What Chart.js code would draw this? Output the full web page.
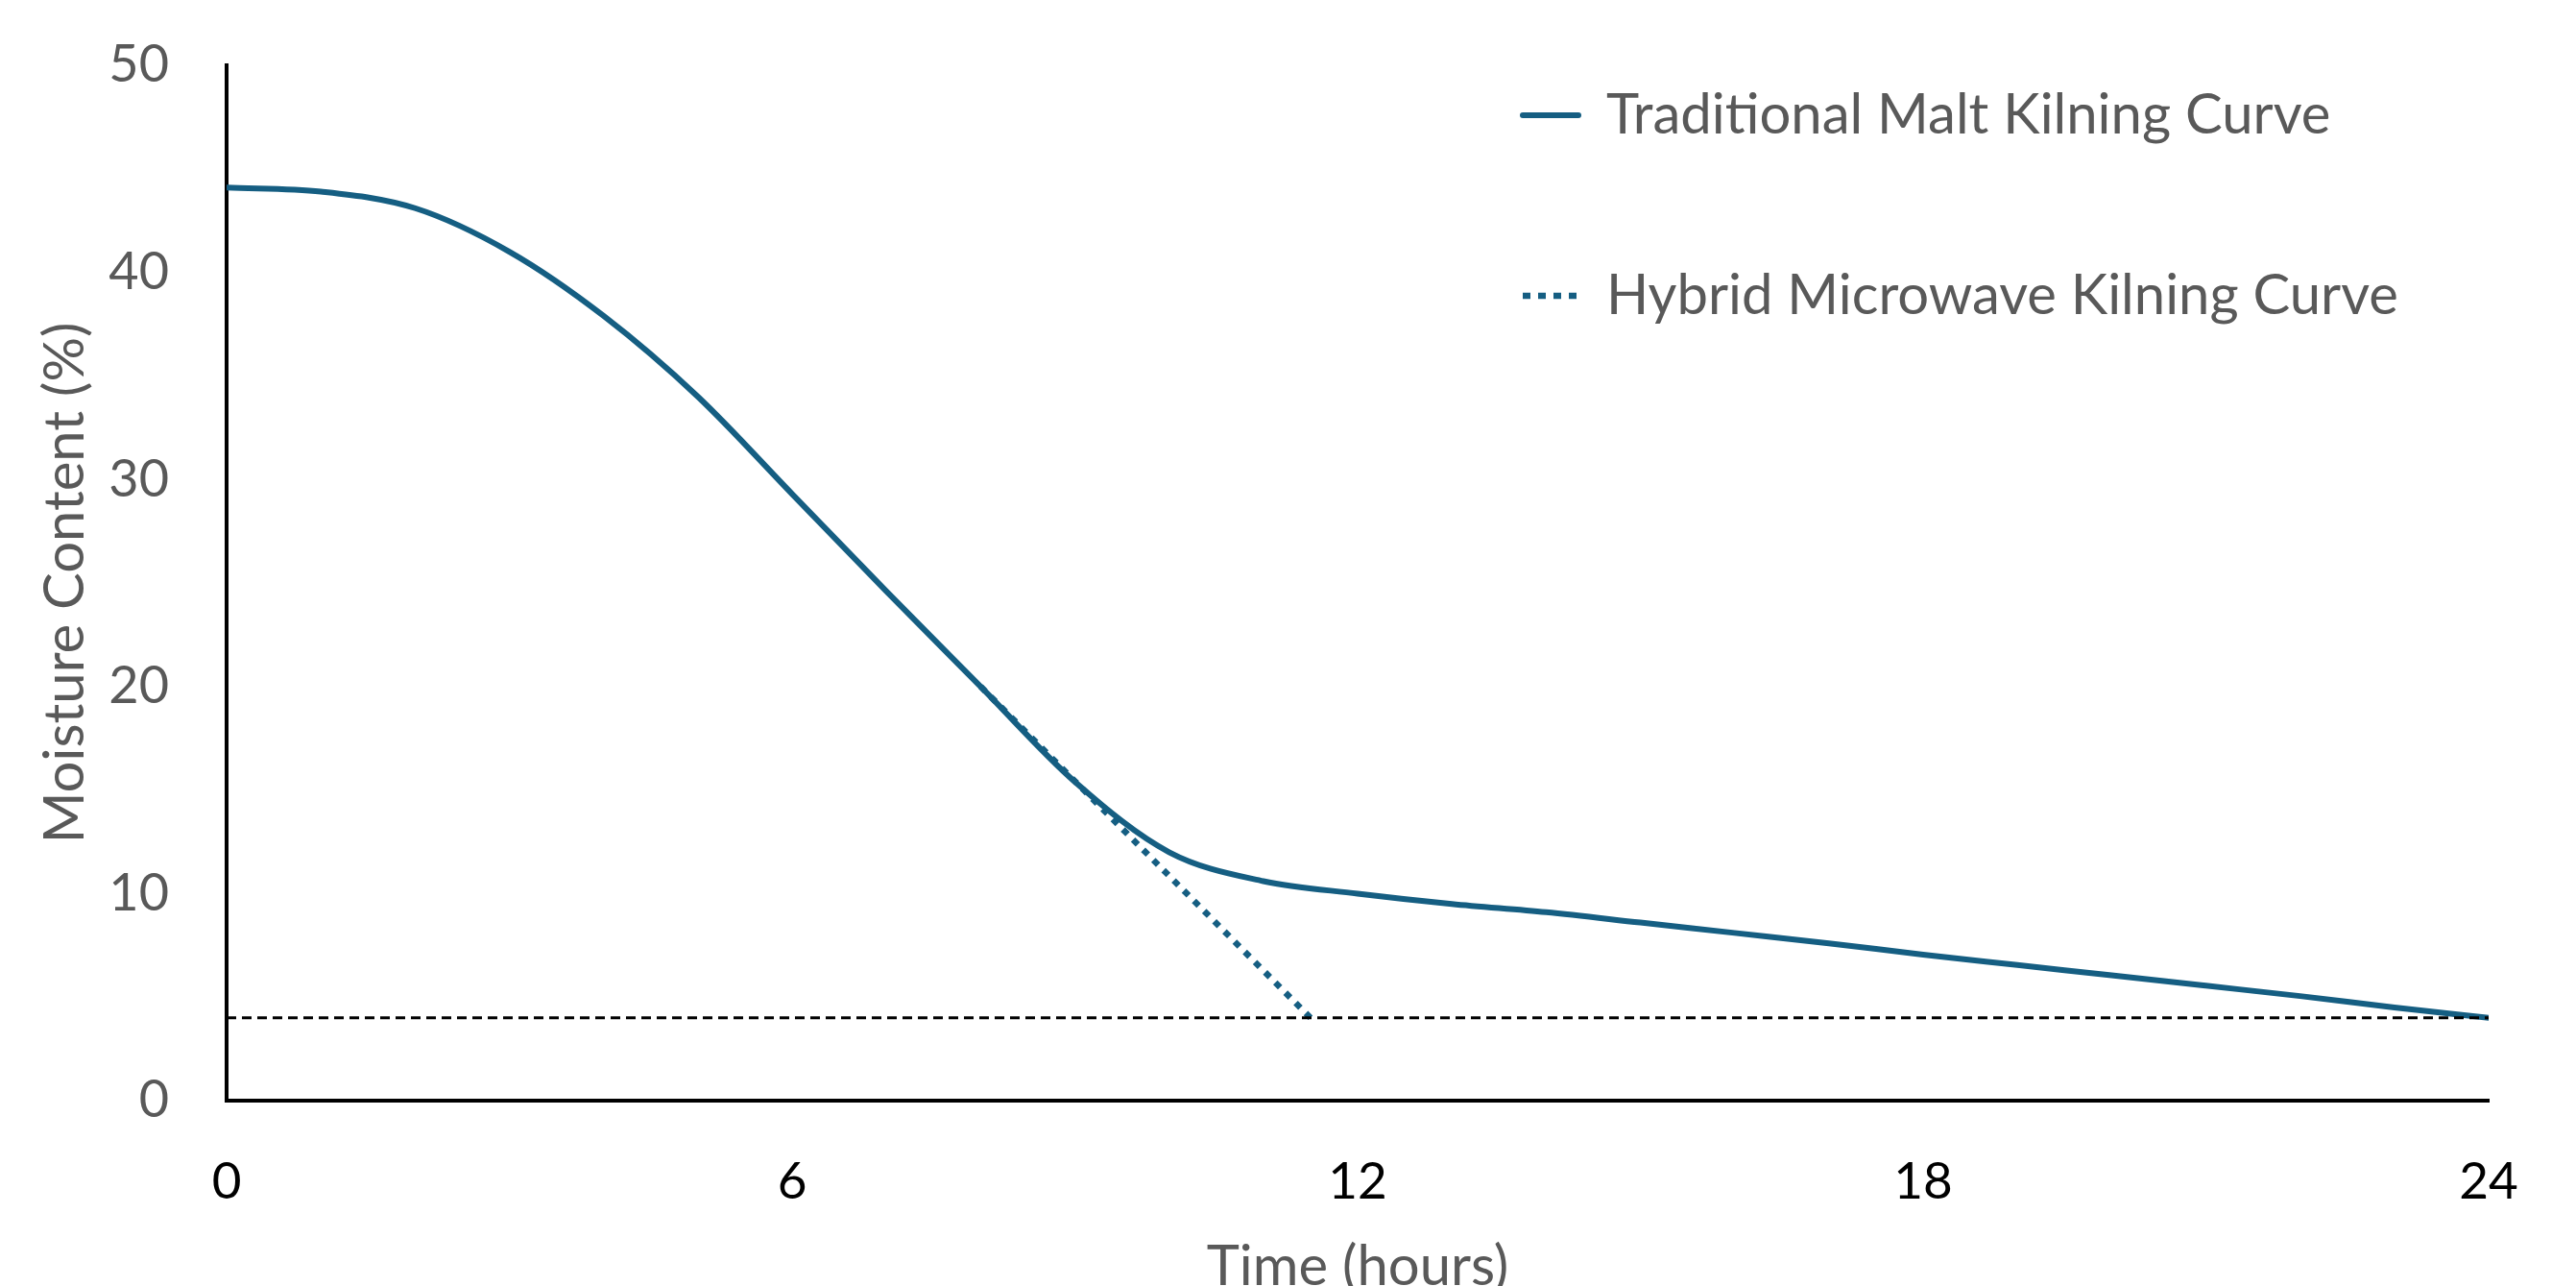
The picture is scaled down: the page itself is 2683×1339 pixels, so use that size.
<!DOCTYPE html>
<html>
<head>
<meta charset="utf-8">
<title>Moisture Content vs Time</title>
<script src="https://cdn.jsdelivr.net/npm/chart.js@4.4.1/dist/chart.umd.min.js"></script>
<style>
  html, body { margin: 0; padding: 0; background: #ffffff; }
  canvas { display: block; }
</style>
</head>
<body>
<canvas id="kilnChart" width="2683" height="1339"></canvas>
<script>
// time axis (hours) and the two kilning curves
const hours = [0, 1, 2, 3, 4, 5, 6, 7, 8, 9, 10, 11, 12, 13, 14, 15, 16, 17, 18, 19, 20, 21, 22, 23, 24];
const traditionalMoisture = [44.1, 43.9, 43.1, 41.0, 37.9, 34.0, 29.3, 24.6, 20.0, 15.4, 12.0, 10.6, 10.0,
                             9.5, 9.1, 8.6, 8.1, 7.6, 7.05, 6.55, 6.05, 5.55, 5.05, 4.5, 4.0];
const hybridHours = [8, 11.5];
const hybridMoisture = [20.0, 4.0];
const targetHours = [0, 24];
const targetMoisture = [4, 4];

const xTickValues = [0, 6, 12, 18, 24];
const yTickValues = [0, 10, 20, 30, 40, 50];

const seriesNames = ['Traditional Malt Kilning Curve', 'Hybrid Microwave Kilning Curve'];

const BLUE = '#155E82';
const GREY = '#595959';

function toPoints(xs, ys) {
    return xs.map((x, i) => ({ x: x, y: ys[i] }));
}

// put the built-in legend where the original one sits, inside the plot
const legendPlacer = {
    id: 'legendPlacer',
    afterLayout(chart) {
        const lg = chart.legend;
        const pad = lg.options.labels.padding;
        lg.left = 1586 - pad;
        lg.top = 120 - 29 - pad;
    }
};

Chart.defaults.font.family = 'Lato';

const ctx = document.getElementById('kilnChart').getContext('2d');

const kilnChart = new Chart(ctx, {
    type: 'line',
    data: {
        datasets: [
            {
                label: seriesNames[0],
                data: toPoints(hours, traditionalMoisture),
                borderColor: BLUE,
                backgroundColor: BLUE,
                borderWidth: 6,
                borderCapStyle: 'round',
                cubicInterpolationMode: 'monotone',
                pointRadius: 0,
                order: 1
            },
            {
                label: seriesNames[1],
                data: toPoints(hybridHours, hybridMoisture),
                borderColor: BLUE,
                backgroundColor: BLUE,
                borderWidth: 6.5,
                borderDash: [7, 8],
                borderCapStyle: 'butt',
                pointRadius: 0,
                order: 2
            },
            {
                label: 'target',
                data: toPoints(targetHours, targetMoisture),
                borderColor: '#000000',
                borderWidth: 3,
                borderDash: [10, 6],
                pointRadius: 0,
                order: 0
            }
        ]
    },
    options: {
        responsive: false,
        animation: false,
        layout: {
            padding: { top: 68, right: 91, bottom: 0, left: 0 }
        },
        scales: {
            x: {
                type: 'linear',
                min: 0,
                max: 24,
                afterBuildTicks: (scale) => { scale.ticks = xTickValues.map(v => ({ value: v })); },
                afterFit: (scale) => { scale.height = 193; scale.paddingLeft = 0; scale.paddingRight = 0; },
                grid: { display: false, drawTicks: false },
                border: { display: true, color: '#000000', width: 4 },
                ticks: {
                    color: '#000000',
                    padding: 53,
                    maxRotation: 0,
                    font: { size: 53 }
                },
                title: {
                    display: true,
                    text: 'Time (hours)',
                    color: GREY,
                    padding: { top: 0, bottom: -15 },
                    font: { size: 58 }
                }
            },
            y: {
                min: 0,
                max: 50,
                afterBuildTicks: (scale) => { scale.ticks = yTickValues.map(v => ({ value: v })); },
                afterFit: (scale) => { scale.width = 236; scale.paddingTop = 0; scale.paddingBottom = 0; },
                grid: { display: false, drawTicks: false },
                border: { display: true, color: '#000000', width: 4 },
                ticks: {
                    color: GREY,
                    padding: 60,
                    font: { size: 54 }
                },
                title: {
                    display: true,
                    text: 'Moisture Content (%)',
                    color: GREY,
                    padding: { top: 33, bottom: 0 },
                    font: { size: 58 }
                }
            }
        },
        plugins: {
            tooltip: { enabled: false },
            legend: {
                position: 'chartArea',
                align: 'start',
                labels: {
                    usePointStyle: true,
                    pointStyleWidth: 58,
                    padding: 130,
                    color: GREY,
                    font: { size: 58 },
                    generateLabels(chart) {
                        const items = Chart.defaults.plugins.legend.labels.generateLabels(chart);
                        return items
                            .filter(it => it.datasetIndex < 2)
                            .map(it => {
                                const ds = chart.data.datasets[it.datasetIndex];
                                it.pointStyle = 'line';
                                it.strokeStyle = ds.borderColor;
                                it.lineWidth = ds.borderWidth;
                                it.lineDash = ds.borderDash ? [8, 8] : [];
                                it.lineCap = ds.borderCapStyle;
                                return it;
                            });
                    }
                }
            }
        }
    },
    plugins: [legendPlacer]
});
</script>
</body>
</html>
